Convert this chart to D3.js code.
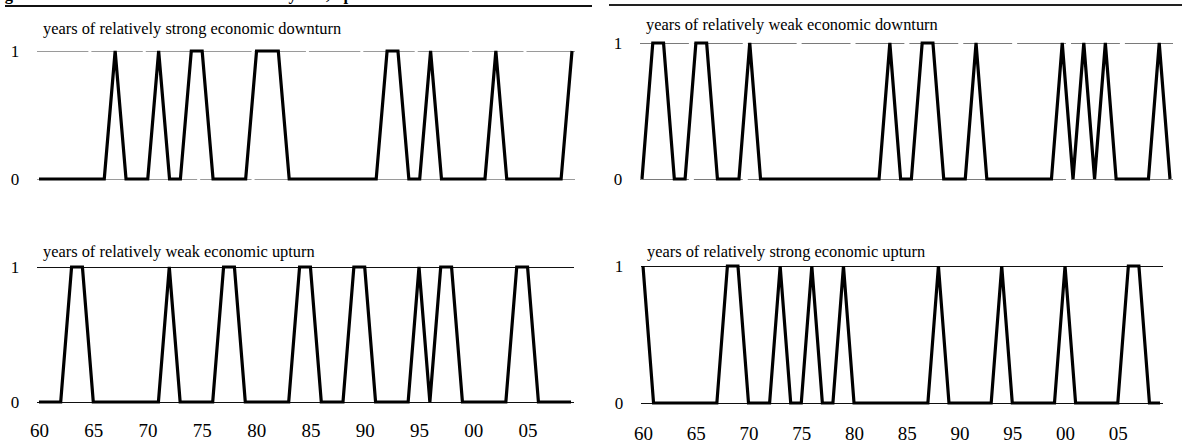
<!DOCTYPE html>
<html>
<head>
<meta charset="utf-8">
<script src="https://cdn.jsdelivr.net/npm/d3@7"></script>
<style>
  html, body { margin: 0; padding: 0; background: #fff; }
  svg { display: block; }
  text { font-family: "Liberation Serif", "Times New Roman", serif; fill: #000; }
</style>
</head>
<body>
<svg id="chart" width="1182" height="443"></svg>
<script>
// years 1960..2009, 1 = year belongs to the category
const years = d3.range(1960, 2010);

const strongDownturn = [
  0,0,0,0,0,0,0,1,0,0,
  0,1,0,0,1,1,0,0,0,0,
  1,1,1,0,0,0,0,0,0,0,
  0,0,1,1,0,0,1,0,0,0,
  0,0,1,0,0,0,0,0,0,1
];
const weakDownturn = [
  0,1,1,0,0,1,1,0,0,0,
  1,0,0,0,0,0,0,0,0,0,
  0,0,0,1,0,0,1,1,0,0,
  0,1,0,0,0,0,0,0,0,1,
  0,1,0,1,0,0,0,0,1,0
];
const weakUpturn = [
  0,0,0,1,1,0,0,0,0,0,
  0,0,1,0,0,0,0,1,1,0,
  0,0,0,0,1,1,0,0,0,1,
  1,0,0,0,0,1,0,1,1,0,
  0,0,0,0,1,1,0,0,0,0
];
const strongUpturn = [
  1,0,0,0,0,0,0,0,1,1,
  0,0,0,1,0,0,1,0,0,1,
  0,0,0,0,0,0,0,0,1,0,
  0,0,0,0,1,0,0,0,0,0,
  1,0,0,0,0,0,1,1,0,0
];

const tickYears = [1960, 1965, 1970, 1975, 1980, 1985, 1990, 1995, 2000, 2005];
const tickLabels = ["60", "65", "70", "75", "80", "85", "90", "95", "00", "05"];
const yTicks = [0, 1];

const figureTitle = "Figure 2: Classification of the observation years, upturn vs downturn";

const panels = [
  {title: "years of relatively strong economic downturn", values: strongDownturn,
   x: [39, 572], y: [179, 51], titleY: 33.5, grid: "#9a9a9a", gap: 3, axis: false},
  {title: "years of relatively weak economic downturn", values: weakDownturn,
   x: [642, 1170], y: [179, 43], titleY: 29.5, grid: "#7a7a7a", gap: 5, axis: false},
  {title: "years of relatively weak economic upturn", values: weakUpturn,
   x: [39, 571], y: [402, 267], titleY: 256.5, grid: "#111", gap: 0, axis: true, axisY: 437},
  {title: "years of relatively strong economic upturn", values: strongUpturn,
   x: [643, 1160], y: [403, 266], titleY: 257, grid: "#111", gap: 0, axis: true, axisY: 440}
];

const svg = d3.select("#chart");

// figure title, cut off by the top edge as in the source, and the top rules
svg.append("text")
  .attr("x", -10)
  .attr("y", -0.5)
  .style("font-weight", "bold")
  .style("font-size", "16.5px")
  .text(figureTitle);

svg.append("line")
  .attr("x1", 5).attr("x2", 592).attr("y1", 6).attr("y2", 6)
  .attr("stroke", "#111").attr("stroke-width", 2);
svg.append("line")
  .attr("x1", 609).attr("x2", 1182).attr("y1", 5).attr("y2", 5)
  .attr("stroke", "#222").attr("stroke-width", 2);

const drawPanel = (p) => {
  const xScale = d3.scaleLinear().domain([1960, 2009]).range(p.x);
  const yScale = d3.scaleLinear().domain([0, 1]).range(p.y);
  const g = svg.append("g");

  const period = xScale(1965) - xScale(1960);

  // gridlines at 0 and 1
  g.selectAll("line.grid")
    .data(yTicks)
    .enter()
    .append("line")
    .attr("class", "grid")
    .attr("x1", p.x[0] - 2)
    .attr("x2", p.x[1] + 3)
    .attr("y1", (d) => yScale(d) + 0.5)
    .attr("y2", (d) => yScale(d) + 0.5)
    .attr("stroke", p.grid)
    .attr("stroke-width", 1)
    .attr("stroke-dasharray", p.gap ? `${period - p.gap} ${p.gap}` : null);

  g.selectAll("text.ylab")
    .data(yTicks)
    .enter()
    .append("text")
    .attr("class", "ylab")
    .attr("x", p.x[0] - 24)
    .attr("y", (d) => yScale(d))
    .attr("dy", "0.35em")
    .attr("text-anchor", "middle")
    .style("font-size", "17px")
    .text((d) => d);

  g.append("text")
    .attr("x", p.x[0] + 4)
    .attr("y", p.titleY)
    .style("font-size", "16.4px")
    .text(p.title);

  const line = d3.line()
    .x((d, i) => xScale(years[i]))
    .y((d) => yScale(d));

  g.append("path")
    .datum(p.values)
    .attr("d", line)
    .attr("fill", "none")
    .attr("stroke", "#000")
    .attr("stroke-width", 3.2);

  if (p.axis) {
    const xAxis = d3.axisBottom(xScale)
      .tickValues(tickYears)
      .tickSize(0)
      .tickFormat((d, i) => tickLabels[i]);
    const axisG = g.append("g")
      .attr("transform", `translate(0, ${p.axisY})`)
      .call(xAxis)
      .attr("font-family", null)
      .attr("font-size", null);
    axisG.select(".domain").remove();
    axisG.selectAll("text")
      .attr("dy", null)
      .attr("y", 0)
      .style("font-family", "'Liberation Serif', serif")
      .style("font-size", "19px")
      .attr("fill", "#000");
  }
};

panels.forEach(drawPanel);
</script>
</body>
</html>
